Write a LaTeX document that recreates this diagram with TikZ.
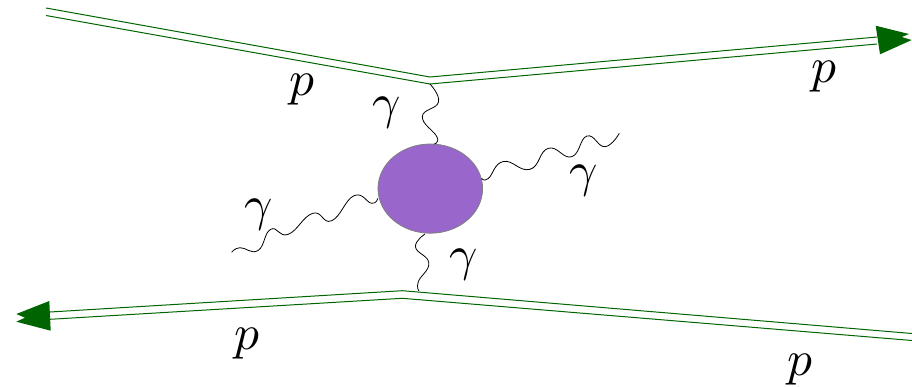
\documentclass[tikz,border=0pt]{standalone}
\usetikzlibrary{shapes.geometric}
\definecolor{pline}{HTML}{006400}
\definecolor{blobfill}{HTML}{9966CC}
\tikzset{
  x=1pt,y=-1pt,
  protonline/.style={draw=pline,line width=1pt},
  headfill/.style={fill=pline,draw=none},
  photon/.style={draw=black,line width=0.8pt,smooth,tension=0.8},
  lab/.style={inner sep=0pt,scale=4.95,text=black},
}
\begin{document}
\begin{tikzpicture}
\useasboundingbox (0,0) rectangle (912,386);
% blob
\node[ellipse,draw=gray,line width=0.8pt,fill=blobfill,minimum width=104.6pt,minimum height=89.2pt,inner sep=0pt] (blob) at (430.3,188.6) {};
% proton lines
\coordinate (tla) at (46,8);   \coordinate (tlb) at (46,15.5);
\coordinate (tva) at (430,77); \coordinate (tvb) at (430,84);
\coordinate (tra) at (877,37); \coordinate (trb) at (877,44);
\coordinate (bla) at (50,312); \coordinate (blb) at (50,319.3);
\coordinate (bva) at (402.3,290.7); \coordinate (bvb) at (402.3,298.3);
\coordinate (bra) at (912,333.5); \coordinate (brb) at (912,340.5);
\draw[protonline] (tla) -- (tva) -- (tra);
\draw[protonline] (tlb) -- (tvb) -- (trb);
\draw[protonline] (bla) -- (bva) -- (bra);
\draw[protonline] (blb) -- (bvb) -- (brb);
% arrow heads
\fill[headfill] (875.7,25.7) -- (909,34) -- (901.7,37) -- (911.7,40) -- (880,54.3) -- cycle;
\fill[headfill] (49.3,301) -- (16.3,314) -- (25,317.7) -- (16.3,321.7) -- (50.7,330.7) -- cycle;
% photons
\draw[photon] plot coordinates {(tvb) (438.5,102) (422.3,116.7) (437,137) (434.3,144)};
\draw[photon] plot coordinates {(481.7,178.3) (488.3,178.5) (503.3,161.5) (530,169.3) (548.3,148.3) (571.7,156.7) (587,136) (605,146.7) (619.3,133.3)};
\draw[photon] plot coordinates {(377.7,198.3) (371.7,203.3) (354,195.7) (331.7,220.7) (312.7,213.3) (288.3,234.3) (270.7,229.3) (258,250.5) (240,247.7) (231.7,252.3)};
\draw[photon] plot coordinates {(425,234) (415.5,247) (428.8,263) (418.3,281.7) (419,291)};
% labels
\node[lab] (p1) at (302,90) {$p$};
\node[lab] (p2) at (824,77) {$p$};
\node[lab] (p3) at (247,344) {$p$};
\node[lab] (p4) at (800,370) {$p$};
\node[lab] (g1) at (387,113) {$\gamma$};
\node[lab] (g2) at (584,181) {$\gamma$};
\node[lab] (g3) at (259,215) {$\gamma$};
\node[lab] (g4) at (463.5,265) {$\gamma$};
\end{tikzpicture}
\end{document}
